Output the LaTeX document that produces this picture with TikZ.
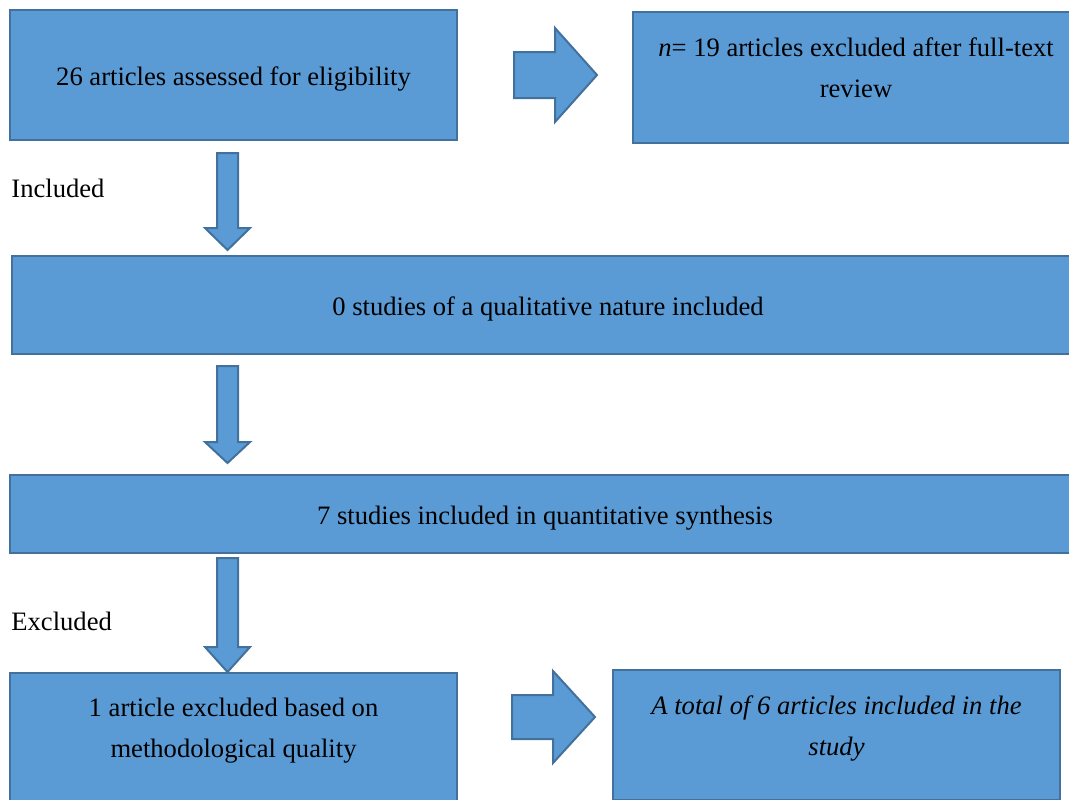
\documentclass[tikz,border=0pt]{standalone}
\usepackage{fontspec}
\setmainfont{Liberation Serif}
\usetikzlibrary{positioning}
\definecolor{boxfill}{HTML}{5B9BD5}
\definecolor{boxline}{HTML}{41719C}
\tikzset{
  box/.style={rectangle, draw=boxline, fill=boxfill, line width=1pt, inner sep=0pt},
  txt/.style={inner sep=0pt, align=center, font=\fontsize{13.3}{20.5}\selectfont},
  oneline/.style={txt, text height=13pt, text depth=3pt},
  side/.style={inner sep=0pt, anchor=west, font=\fontsize{13.3}{20.5}\selectfont},
  blockarrow/.style={draw=boxline, fill=boxfill, line width=1pt, line join=miter}
}
\begin{document}
\begin{tikzpicture}[x=0.5pt, y=-0.5pt]
        \useasboundingbox (0,0) rectangle (1069,799);
        \clip (0,0) rectangle (1069,799);

        % Boxes
        \node (assessed) [box, oneline, minimum width=223.5pt, minimum height=65pt] at (233.5,75) {26 articles assessed for eligibility};
        \node (fulltext) [box, minimum width=223pt, minimum height=65.5pt] at (856,77.5) {};
        \node (qualitative) [box, oneline, minimum width=536pt, minimum height=49pt] at (548,305) {0 studies of a qualitative nature included};
        \node (quantitative) [box, oneline, minimum width=535pt, minimum height=39pt] at (545,514) {7 studies included in quantitative synthesis};
        \node (quality) [box, minimum width=223.5pt, minimum height=65pt] at (233.5,738) {};
        \node (total) [box, minimum width=223.5pt, minimum height=65pt] at (836.5,735) {};

        % Texts in the tall boxes
        \node (fulltexttxt) [txt, below=13pt of fulltext.north] {\textit{n}= 19 articles excluded after full-text\\review};
        \node (qualitytxt) [txt, below=13pt of quality.north] {1 article excluded based on\\methodological quality};
        \node (totaltxt) [txt, below=13pt of total.north, font=\fontsize{13.3}{20.5}\selectfont\itshape] {A total of 6 articles included in the\\study};

        % Side labels
        \node (included) [side] at (11,188) {Included};
        \node (excluded) [side] at (11,621) {Excluded};

        % Block arrows
        \draw[blockarrow] (514,52) -- (555,52) -- (555,28) -- (597,75) -- (555,122) -- (555,98) -- (514,98) -- cycle;
        \draw[blockarrow] (512,695) -- (553,695) -- (553,671) -- (595,717) -- (553,763) -- (553,739) -- (512,739) -- cycle;
        \foreach \top/\head/\tip in {153/228/250, 366/442/463, 558/647/672}
          \draw[blockarrow] (217,\top) -- (238,\top) -- (238,\head) -- (250,\head) -- (227.5,\tip) -- (205,\head) -- (217,\head) -- cycle;
    \end{tikzpicture}
\end{document}
